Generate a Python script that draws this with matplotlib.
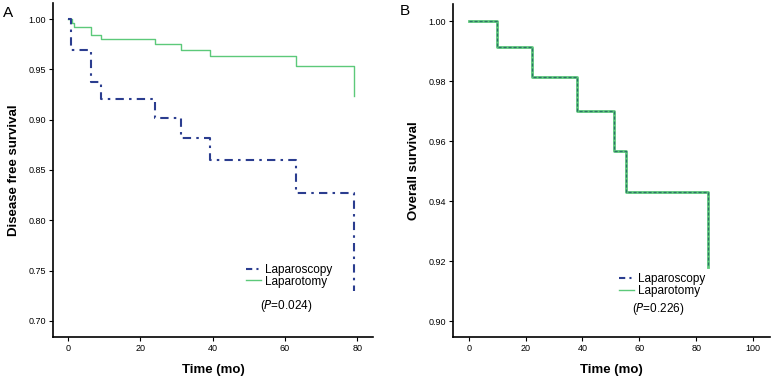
import matplotlib
matplotlib.use("Agg")
import matplotlib.pyplot as plt
from matplotlib.lines import Line2D

plt.rcParams['font.family'] = ['Liberation Sans', 'DejaVu Sans']

# 무병생존 (A) - 시간(개월)과 생존율
dfs_lapscopy_t = [0, 1.0, 6.3, 9.3, 24.0, 31.2, 39.2, 63.0, 79.0]
dfs_lapscopy_s = [1.000, 0.969, 0.937, 0.921, 0.902, 0.882, 0.860, 0.827, 0.730]
dfs_lapotomy_t = [0, 1.1, 1.8, 6.3, 9.3, 24.2, 31.2, 39.2, 63.0, 79.0]
dfs_lapotomy_s = [1.000, 0.996, 0.992, 0.984, 0.980, 0.975, 0.969, 0.963, 0.953, 0.924]

# 전체생존 (B) - 두 그룹이 겹침
os_t = [0, 10.1, 22.3, 38.0, 51.2, 55.2, 84.3]
os_lapscopy_s = [1.000, 0.9915, 0.9815, 0.970, 0.9566, 0.943, 0.918]
os_lapotomy_s = [1.000, 0.9915, 0.9815, 0.970, 0.9566, 0.943, 0.918]

ticks_a_x = [0, 20, 40, 60, 80]
ticks_a_y = [0.70, 0.75, 0.80, 0.85, 0.90, 0.95, 1.00]
ticks_b_x = [0, 20, 40, 60, 80, 100]
ticks_b_y = [0.90, 0.92, 0.94, 0.96, 0.98, 1.00]

blue = '#2b3d8f'
green = '#5cc97a'

fig = plt.figure(figsize=(7.74, 3.79), dpi=100)
axA = fig.add_axes([0.0685, 0.111, 0.4135, 0.881])
axB = fig.add_axes([0.585, 0.111, 0.410, 0.878])


def style(ax, xt, yt, fmt):
    for s in ['top', 'right']:
        ax.spines[s].set_visible(False)
    for s in ['left', 'bottom']:
        ax.spines[s].set_linewidth(1.2)
    ax.set_xticks(xt)
    ax.set_yticks(yt)
    ax.set_yticklabels([fmt.format(v) for v in yt])
    ax.tick_params(labelsize=6.5, length=3, width=0.8, pad=2)
    ax.set_xlabel('Time (mo)', fontsize=9.5, fontweight='bold', labelpad=8)


# A
axA.step(dfs_lapotomy_t, dfs_lapotomy_s, where='post', color=green, lw=1.0)
axA.step(dfs_lapscopy_t, dfs_lapscopy_s, where='post', color=blue, lw=1.5,
         dashes=[4, 2.5, 1.2, 2.5])
axA.set_xlim(-4.1, 84.4)
axA.set_ylim(0.684, 1.016)
style(axA, ticks_a_x, ticks_a_y, '{:.2f}')
axA.set_ylabel('Disease free survival', fontsize=9.5, fontweight='bold', labelpad=6)
fig.text(0.004, 0.955, 'A', fontsize=11)

# B
axB.step(os_t, os_lapotomy_s, where='post', color=green, lw=2.0)
axB.step(os_t, os_lapscopy_s, where='post', color='#2e6f6a', lw=0.9,
         dashes=[2.5, 1.5])
axB.set_xlim(-5.6, 106)
axB.set_ylim(0.8947, 1.0057)
style(axB, ticks_b_x, ticks_b_y, '{:.2f}')
axB.set_ylabel('Overall survival', fontsize=9.5, fontweight='bold', labelpad=6)
fig.text(0.517, 0.96, 'B', fontsize=11)

handles = [Line2D([], [], color=blue, lw=1.5, dashes=[3, 2, 1, 2]),
           Line2D([], [], color=green, lw=1.0)]
labels = ['Laparoscopy', 'Laparotomy']

for ax, loc, ptxt, px, py in [(axA, (0.585, 0.13), '0.024', 0.647, 0.093),
                              (axB, (0.504, 0.103), '0.226', 0.565, 0.084)]:
    ax.legend(handles, labels, loc='lower left', bbox_to_anchor=loc,
              frameon=False, fontsize=8.5, handlelength=1.3,
              handletextpad=0.3, labelspacing=-0.05, borderpad=0)
    ax.text(px, py, '($P$=' + ptxt + ')', transform=ax.transAxes,
            fontsize=8.5, ha='left', va='center')

fig.savefig('out.png', dpi=100)
